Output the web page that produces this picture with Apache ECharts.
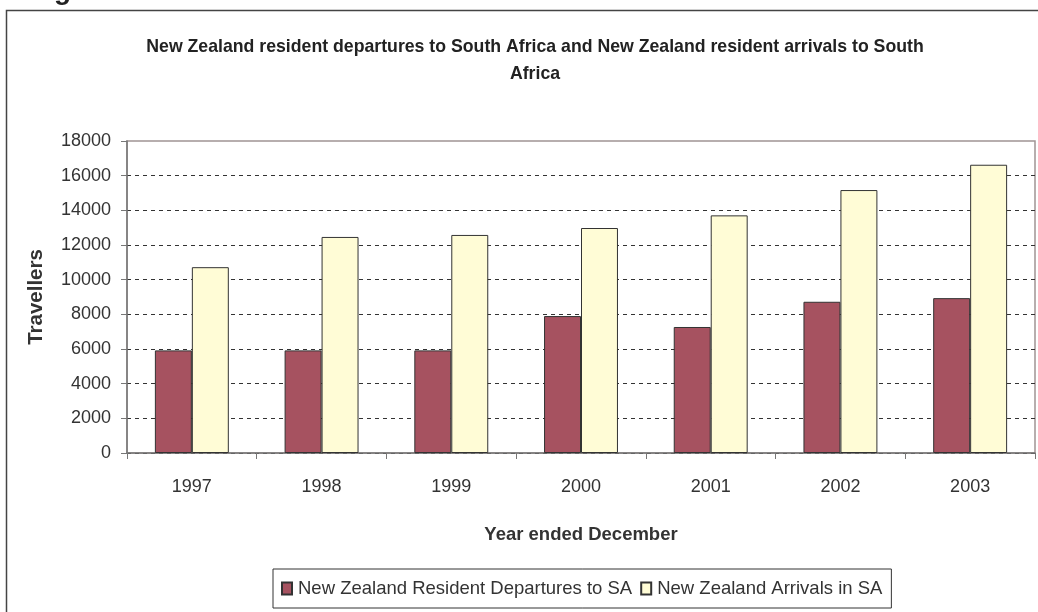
<!DOCTYPE html>
<html>
<head>
<meta charset="utf-8">
<script src="https://cdn.jsdelivr.net/npm/echarts@6/dist/echarts.min.js"></script>
<style>html,body{margin:0;padding:0;background:#fff;}#c{width:1038px;height:612px;}</style>
</head>
<body>
<div id="c"></div>
<script>
var categories = ['1997', '1998', '1999', '2000', '2001', '2002', '2003'];
var departures = [5920, 5920, 5920, 7900, 7270, 8725, 8935];
var arrivals = [10720, 12465, 12580, 12980, 13710, 15170, 16630];
var seriesNames = ['New Zealand Resident Departures to SA', 'New Zealand Arrivals in SA'];
var titleText = 'New Zealand resident departures to South Africa and New Zealand resident arrivals to South\nAfrica';

var chart = echarts.init(document.getElementById('c'));
var gridColors = [];
for (var i = 0; i < 10; i++) gridColors.push(i === 9 ? 'rgba(0,0,0,0)' : '#333');

chart.setOption({
  animation: false,
  backgroundColor: '#fff',
  textStyle: { fontFamily: 'Liberation Sans' },
  title: {
    text: titleText,
    left: 530,
    top: 29,
    textAlign: 'center',
    textStyle: { fontFamily: 'Liberation Sans', fontWeight: 'bold', fontSize: 17.7, color: '#222', lineHeight: 27 }
  },
  graphic: [
    { type: 'rect', shape: { x: 6.5, y: 10.5, width: 1200, height: 800 }, style: { fill: 'none', stroke: '#444', lineWidth: 1.5 }, silent: true },
    { type: 'text', left: 54, top: -23, style: { text: 'g', font: 'bold 28px Liberation Sans', fill: '#222' } }
  ],
  grid: { left: 127, right: 3, top: 141, bottom: 159, show: true, borderColor: '#a09494', borderWidth: 1.5, backgroundColor: 'transparent' },
  legend: {
    data: seriesNames,
    left: 273,
    top: 569,
    icon: 'rect',
    itemWidth: 10,
    itemHeight: 12,
    itemGap: 8,
    padding: [10, 9, 10, 8],
    borderColor: '#333',
    borderWidth: 1,
    textStyle: { fontSize: 18.5, color: '#333', padding: [0, 0, 0, 1] }
  },
  xAxis: {
    type: 'category',
    data: categories,
    axisLine: { lineStyle: { color: '#777', width: 1.5 } },
    axisTick: { show: true, length: 6, lineStyle: { color: '#777' } },
    axisLabel: { fontSize: 18, color: '#333', margin: 25 },
    name: 'Year ended December',
    nameLocation: 'middle',
    nameGap: 72,
    nameTextStyle: { fontSize: 18.5, fontWeight: 'bold', color: '#333' }
  },
  yAxis: {
    type: 'value',
    min: 0,
    max: 18000,
    interval: 2000,
    axisLine: { show: true, lineStyle: { color: '#777', width: 1.5 } },
    axisTick: { show: true, length: 6, lineStyle: { color: '#777' } },
    axisLabel: { fontSize: 18, color: '#333', margin: 16, formatter: function (v) { return String(v); } },
    splitLine: { show: true, lineStyle: { color: gridColors, type: [4, 4], width: 1 } },
    name: 'Travellers',
    nameLocation: 'middle',
    nameRotate: 90,
    nameGap: 80,
    nameTextStyle: { fontSize: 20.5, fontWeight: 'bold', color: '#333' }
  },
  series: [
    {
      name: seriesNames[0], type: 'bar', data: departures, barWidth: '28.5%', barGap: '0%',
      itemStyle: { color: '#a65260', borderColor: '#333', borderWidth: 1 }
    },
    {
      name: seriesNames[1], type: 'bar', data: arrivals, barWidth: '28.5%', barGap: '0%',
      itemStyle: { color: '#fffcd6', borderColor: '#333', borderWidth: 1 }
    }
  ]
});
</script>
</body>
</html>
